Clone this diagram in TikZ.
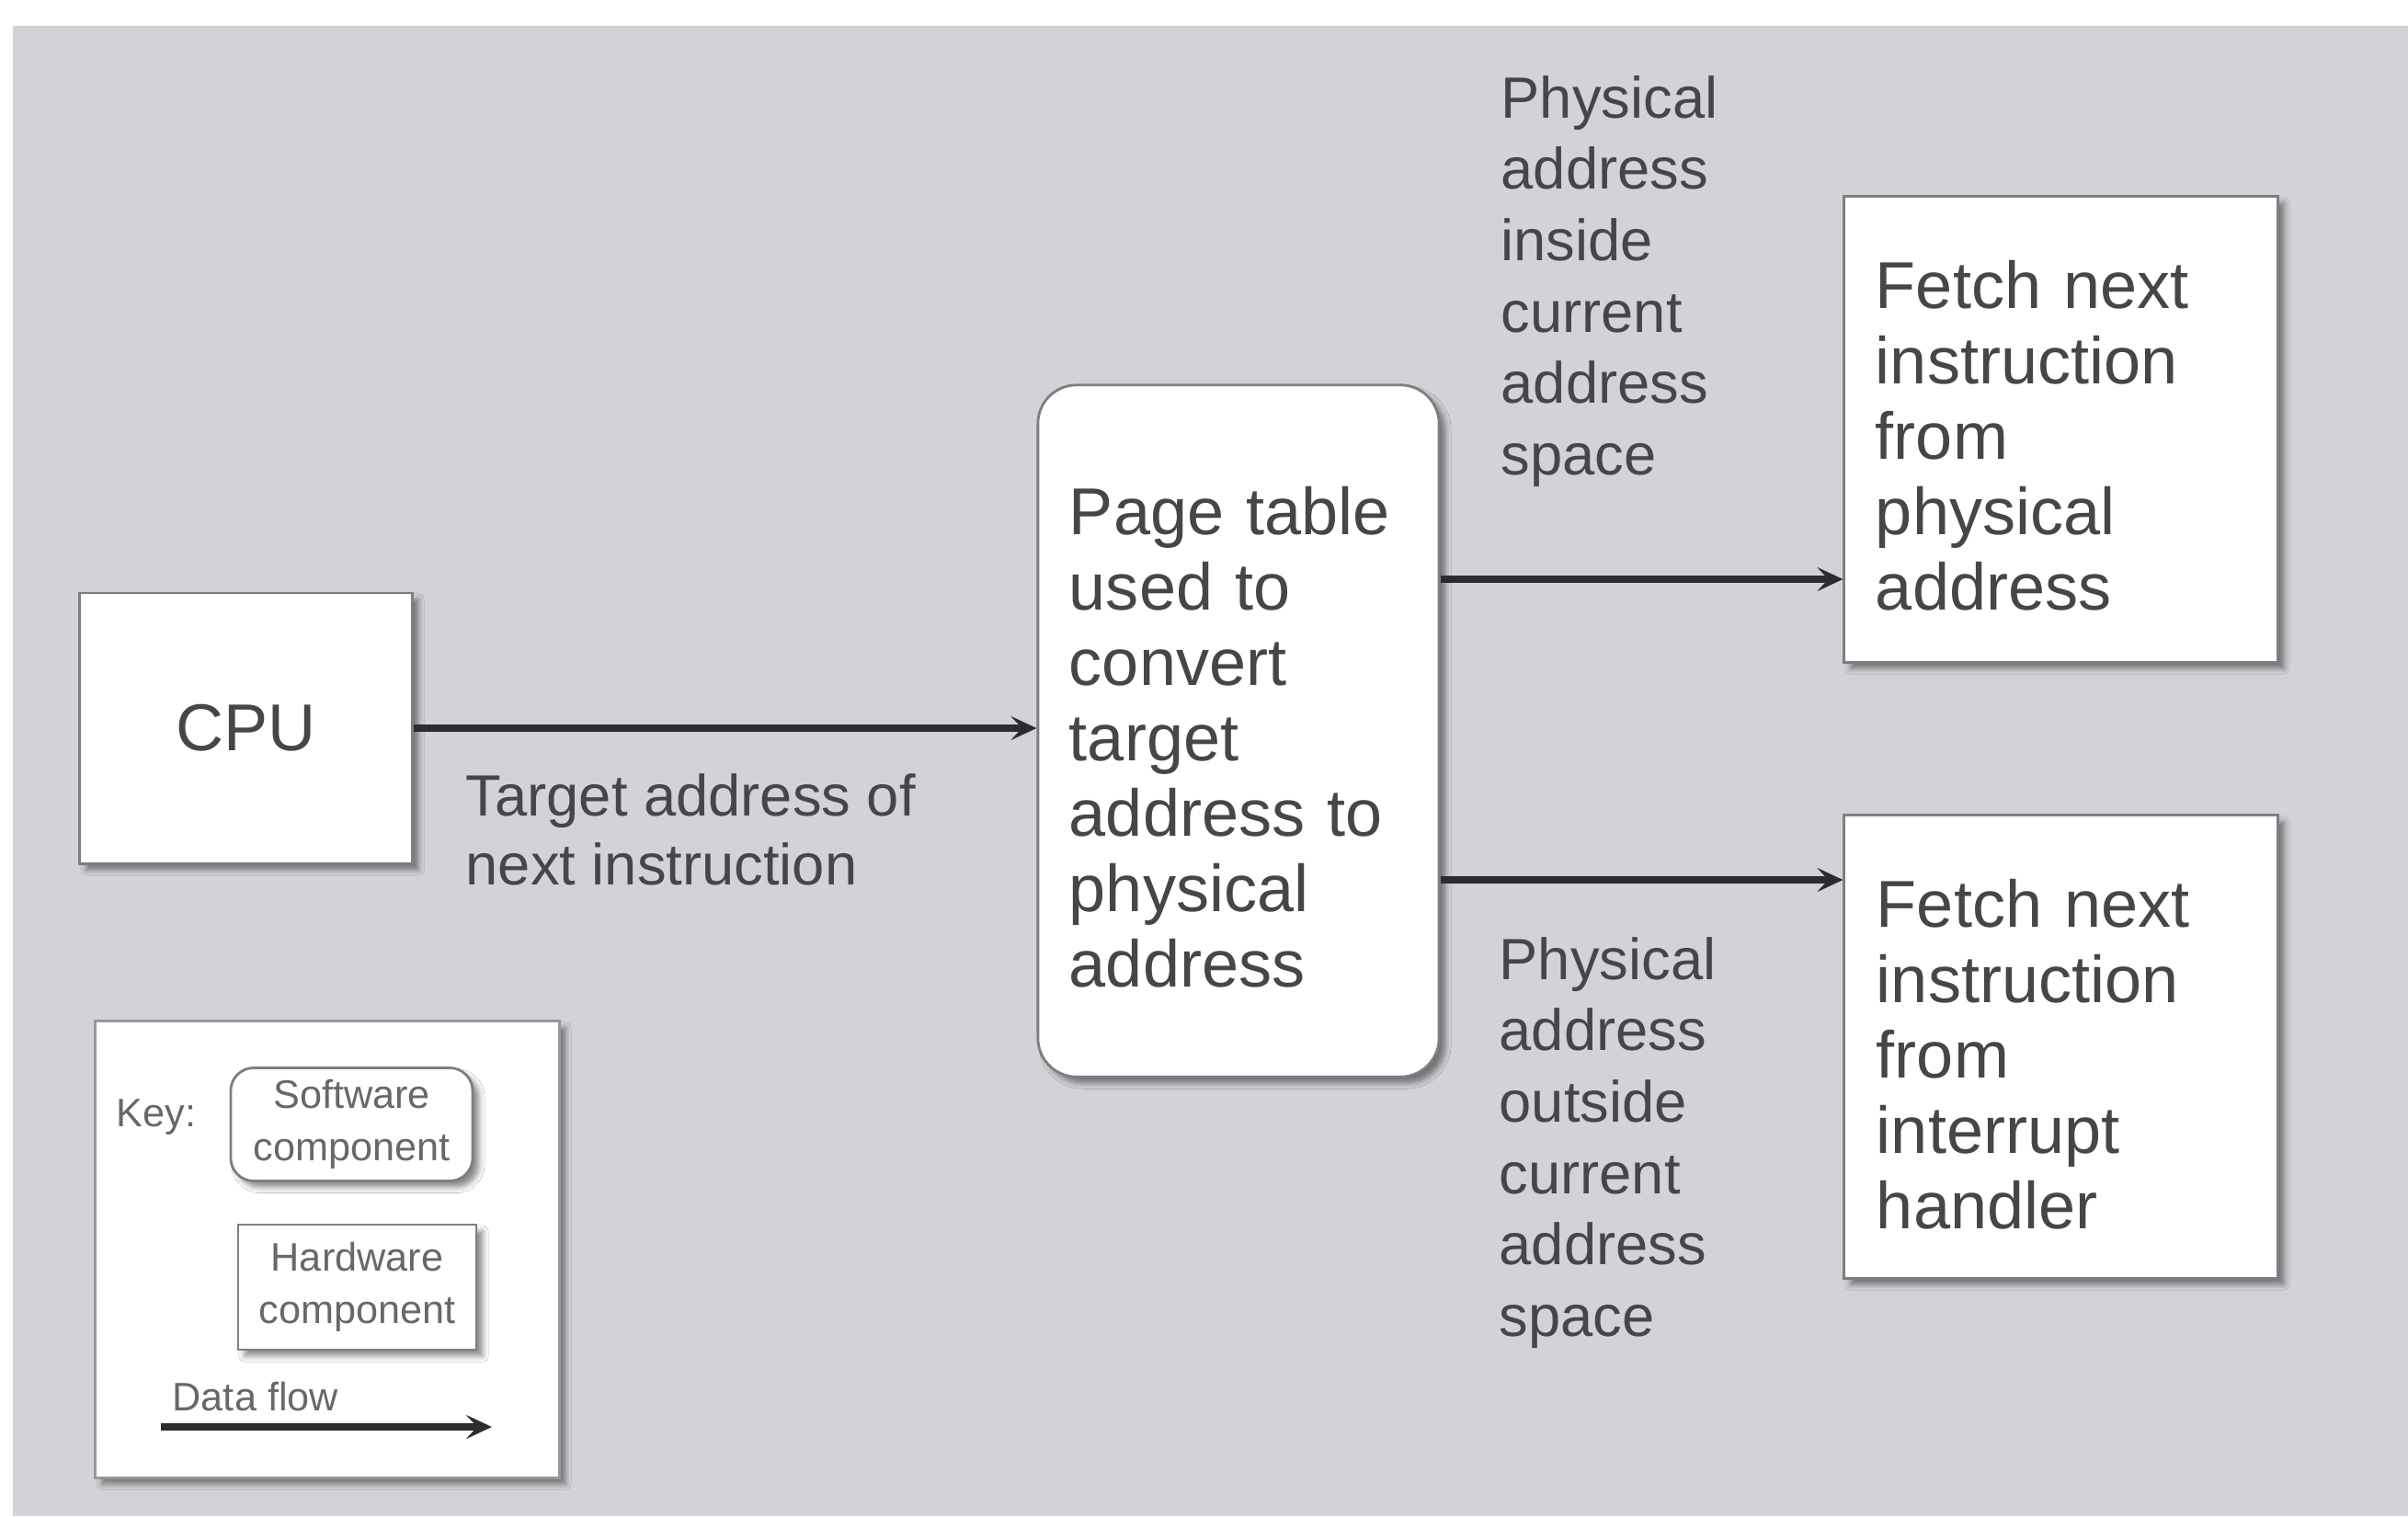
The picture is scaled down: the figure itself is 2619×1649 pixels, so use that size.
\documentclass[tikz,border=0pt]{standalone}
\usepackage{fontspec}
\setmainfont{Liberation Sans}
\usetikzlibrary{arrows.meta,shadows.blur,calc}
\definecolor{bg}{HTML}{D3D2D7}
\definecolor{txt}{HTML}{46464A}
\definecolor{keyc}{HTML}{68686A}
\definecolor{ln}{HTML}{2C2C30}
\definecolor{bd}{HTML}{7E7E82}
\begin{document}
\begin{tikzpicture}[x=0.01cm,y=-0.01cm,
  box/.style={draw=bd, line width=0.8pt, fill=white, inner sep=0pt,
    blur shadow={shadow xshift=0.07cm, shadow yshift=-0.07cm, shadow blur radius=0.06cm, shadow opacity=45}},
  swbox/.style={box, rounded corners=0.42cm},
  bigtxt/.style={font=\fontsize{20.5}{23.3}\selectfont, text=txt, align=left, inner sep=0pt},
  lbl/.style={font=\fontsize{18}{22.1}\selectfont, text=txt, align=left, inner sep=0pt},
  keytxt/.style={font=\fontsize{12.3}{16.2}\selectfont, text=keyc, align=center},
  flow/.style={draw=ln, line width=2.2pt, -{Stealth[length=0.28cm,width=0.26cm,inset=0.12cm]}}
]
\fill[white] (0,0) rectangle (2619,1649);
\fill[bg] (14,28) rectangle (2619,1649);
\useasboundingbox (0,0) rectangle (2619,1649);

% main components
\node[box, minimum width=3.61cm, minimum height=2.94cm, font=\fontsize{20.5}{24}\selectfont, text=txt] (cpu) at (267.5,792) {CPU};
\node[swbox, minimum width=4.36cm, minimum height=7.52cm] (pt) at (1347,795) {};
\node[bigtxt, text width=3.68cm] (pttxt) at ([yshift=-0.07cm]pt.center)
  {Page table\\used to\\convert\\target\\address to\\physical\\address};
\node[box, minimum width=4.71cm, minimum height=5.06cm] (ftop) at (2241.5,467) {};
\node[bigtxt, text width=4.03cm] (ftoptxt) at ([yshift=-0.07cm]ftop.center)
  {Fetch next\\instruction\\from\\physical\\address};
\node[box, minimum width=4.71cm, minimum height=5.03cm] (fbot) at (2241.5,1138.5) {};
\node[bigtxt, text width=4.01cm] (fbottxt) at ([yshift=-0.08cm]fbot.center)
  {Fetch next\\instruction\\from\\interrupt\\handler};

% labels
\node[lbl, anchor=west] (linside) at (1632,306) {Physical\\address\\inside\\current\\address\\space};
\node[lbl, anchor=west] (loutside) at (1630,1243) {Physical\\address\\outside\\current\\address\\space};
\node[lbl, anchor=west, font=\fontsize{18}{21.3}\selectfont] (ltarget) at (506,902) {Target address of\\next instruction};

% connectors
\coordinate (ya) at (0,630);
\coordinate (yb) at (0,957);
\draw[flow] (cpu.east) -- (cpu.east -| pt.west);
\draw[flow] (pt.east |- ya) -- (ftop.west |- ya);
\draw[flow] (pt.east |- yb) -- (fbot.west |- yb);

% key
\node[box, draw=bd!80, minimum width=5.04cm, minimum height=4.96cm] (key) at (356,1359) {};
\node[keytxt, anchor=west, inner sep=0pt] (keylbl) at (126,1215) {Key:};
\node[box, rounded corners=0.25cm, minimum width=2.63cm, minimum height=1.23cm, keytxt] (ksw) at (382.5,1223) {Software\\component};
\node[box, minimum width=2.59cm, minimum height=1.36cm, keytxt] (khw) at (388.5,1400) {Hardware\\component};
\node[keytxt, anchor=west, inner sep=0pt] (kdf) at (187,1519) {Data flow};
\coordinate (dfa) at (175,1552);
\coordinate (dfb) at (535,1552);
\draw[flow, line width=2.4pt] (dfa) -- (dfb);
\end{tikzpicture}
\end{document}
